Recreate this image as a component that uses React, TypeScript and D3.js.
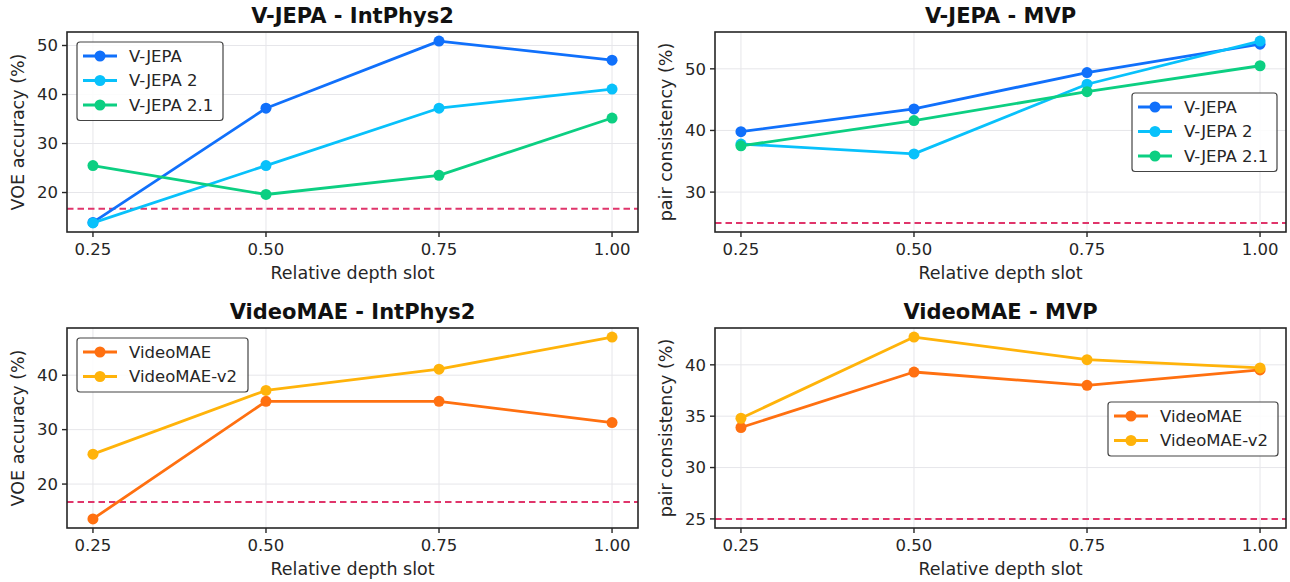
import React from 'react'
import * as d3 from 'd3'

// depth slots on the x axis
const slots = [0.25, 0.5, 0.75, 1.0]
const slotLabels = ['0.25', '0.50', '0.75', '1.00']

// V-JEPA family, IntPhys2 (VOE accuracy %)
const vjepaIntphys = [13.9, 37.2, 50.9, 47.0]
const vjepa2Intphys = [13.8, 25.5, 37.2, 41.1]
const vjepa21Intphys = [25.5, 19.6, 23.5, 35.2]

// V-JEPA family, MVP (pair consistency %)
const vjepaMvp = [39.8, 43.5, 49.4, 54.0]
const vjepa2Mvp = [37.8, 36.2, 47.5, 54.5]
const vjepa21Mvp = [37.5, 41.6, 46.3, 50.5]

// VideoMAE family
const videomaeIntphys = [13.6, 35.2, 35.2, 31.3]
const videomaev2Intphys = [25.5, 37.2, 41.1, 47.0]
const videomaeMvp = [33.9, 39.3, 38.0, 39.5]
const videomaev2Mvp = [34.8, 42.7, 40.5, 39.7]

// chance levels (dashed lines)
const chanceIntphys = 16.7
const chanceMvp = 25

const yTicksTL = [20, 30, 40, 50]
const yTicksTR = [30, 40, 50]
const yTicksBL = [20, 30, 40]
const yTicksBR = [25, 30, 35, 40]

const C = {
  vjepa: '#1070fb',
  vjepa2: '#08c1fb',
  vjepa21: '#0ccf82',
  mae: '#ff7010',
  mae2: '#ffb30a',
  chance: '#e0356b',
}

type Series = { name: string; values: number[]; color: string }

const font = 'DejaVu Sans, sans-serif'

function Panel(props: {
  x0: number; y0: number; w: number; h: number
  title: string; ylabel: string; series: Series[]; chance: number
  yTicks: number[]; legend: { x: number; y: number; w: number }
}) {
  const { x0, y0, w, h, title, ylabel, series, chance, yTicks, legend } = props
  const all = series.flatMap(s => s.values).concat([chance])
  const lo = d3.min(all)!, hi = d3.max(all)!
  const pad = (hi - lo) * 0.05
  const y = d3.scaleLinear().domain([lo - pad, hi + pad]).range([y0 + h, y0])
  const xpad = 0.75 * 0.05
  const x = d3.scaleLinear().domain([0.25 - xpad, 1.0 + xpad]).range([x0, x0 + w])
  const line = d3.line<number>().x((_, i) => x(slots[i])).y(d => y(d))
  const rowH = 24.5
  const legH = series.length * rowH + 5
  return (
    <g>
      {/* grid */}
      {slots.map(s => (
        <line key={'gx' + s} x1={x(s)} x2={x(s)} y1={y0} y2={y0 + h} stroke="#e6e6ea" strokeWidth={1} />
      ))}
      {yTicks.map(t => (
        <line key={'gy' + t} x1={x0} x2={x0 + w} y1={y(t)} y2={y(t)} stroke="#e6e6ea" strokeWidth={1} />
      ))}
      {/* chance */}
      <line x1={x0} x2={x0 + w} y1={y(chance)} y2={y(chance)} stroke={C.chance} strokeWidth={2} strokeDasharray="6.5,4" />
      {series.map(s => (
        <g key={s.name}>
          <path d={line(s.values)!} fill="none" stroke={s.color} strokeWidth={2.8} strokeLinejoin="round" />
          {s.values.map((v, i) => (
            <circle key={i} cx={x(slots[i])} cy={y(v)} r={5.5} fill={s.color} />
          ))}
        </g>
      ))}
      {/* spines */}
      <rect x={x0} y={y0} width={w} height={h} fill="none" stroke="#262626" strokeWidth={1.6} />
      {/* x ticks */}
      {slots.map((s, i) => (
        <g key={'xt' + s}>
          <line x1={x(s)} x2={x(s)} y1={y0 + h} y2={y0 + h + 5} stroke="#262626" strokeWidth={1.4} />
          <text x={x(s)} y={y0 + h + 23} textAnchor="middle" fontSize={16.5} fill="#262626" fontFamily={font}>{slotLabels[i]}</text>
        </g>
      ))}
      {yTicks.map(t => (
        <g key={'yt' + t}>
          <line x1={x0 - 5} x2={x0} y1={y(t)} y2={y(t)} stroke="#262626" strokeWidth={1.4} />
          <text x={x0 - 9} y={y(t)} dy="0.35em" textAnchor="end" fontSize={16.5} fill="#262626" fontFamily={font}>{t}</text>
        </g>
      ))}
      <text x={x0 + w / 2} y={y0 + h + 47} textAnchor="middle" fontSize={17.5} fill="#262626" fontFamily={font}>Relative depth slot</text>
      <text transform={`translate(${x0 - 43},${y0 + h / 2}) rotate(-90)`} textAnchor="middle" fontSize={17.5} fill="#262626" fontFamily={font}>{ylabel}</text>
      <text x={x0 + w / 2} y={y0 - 9} textAnchor="middle" fontSize={21} fontWeight="bold" fill="#111" fontFamily={font}>{title}</text>
      {/* legend */}
      <rect x={legend.x} y={legend.y} width={legend.w} height={legH} rx={3} fill="#fff" fillOpacity={0.85} stroke="#444" strokeWidth={1.2} />
      {series.map((s, i) => {
        const cy = legend.y + 14 + i * rowH
        return (
          <g key={'lg' + s.name}>
            <line x1={legend.x + 6} x2={legend.x + 40} y1={cy} y2={cy} stroke={s.color} strokeWidth={2.8} />
            <circle cx={legend.x + 23} cy={cy} r={5.5} fill={s.color} />
            <text x={legend.x + 52} y={cy} dy="0.35em" fontSize={16.5} fill="#262626" fontFamily={font}>{s.name}</text>
          </g>
        )
      })}
    </g>
  )
}

export default function App() {
  return (
    <svg width={1290} height={582} style={{ display: 'block', position: 'absolute', left: 0, top: 0, background: '#fff' }}>
      <Panel x0={67} y0={32} w={571} h={200} title="V-JEPA - IntPhys2" ylabel="VOE accuracy (%)"
        series={[
          { name: 'V-JEPA', values: vjepaIntphys, color: C.vjepa },
          { name: 'V-JEPA 2', values: vjepa2Intphys, color: C.vjepa2 },
          { name: 'V-JEPA 2.1', values: vjepa21Intphys, color: C.vjepa21 },
        ]}
        chance={chanceIntphys} yTicks={yTicksTL} legend={{ x: 77, y: 42, w: 146 }} />
      <Panel x0={715} y0={32} w={571} h={200} title="V-JEPA - MVP" ylabel="pair consistency (%)"
        series={[
          { name: 'V-JEPA', values: vjepaMvp, color: C.vjepa },
          { name: 'V-JEPA 2', values: vjepa2Mvp, color: C.vjepa2 },
          { name: 'V-JEPA 2.1', values: vjepa21Mvp, color: C.vjepa21 },
        ]}
        chance={chanceMvp} yTicks={yTicksTR} legend={{ x: 1132, y: 93, w: 145 }} />
      <Panel x0={67} y0={328} w={571} h={200} title="VideoMAE - IntPhys2" ylabel="VOE accuracy (%)"
        series={[
          { name: 'VideoMAE', values: videomaeIntphys, color: C.mae },
          { name: 'VideoMAE-v2', values: videomaev2Intphys, color: C.mae2 },
        ]}
        chance={chanceIntphys} yTicks={yTicksBL} legend={{ x: 77, y: 338, w: 171 }} />
      <Panel x0={715} y0={328} w={571} h={200} title="VideoMAE - MVP" ylabel="pair consistency (%)"
        series={[
          { name: 'VideoMAE', values: videomaeMvp, color: C.mae },
          { name: 'VideoMAE-v2', values: videomaev2Mvp, color: C.mae2 },
        ]}
        chance={chanceMvp} yTicks={yTicksBR} legend={{ x: 1108, y: 402, w: 170 }} />
    </svg>
  )
}
